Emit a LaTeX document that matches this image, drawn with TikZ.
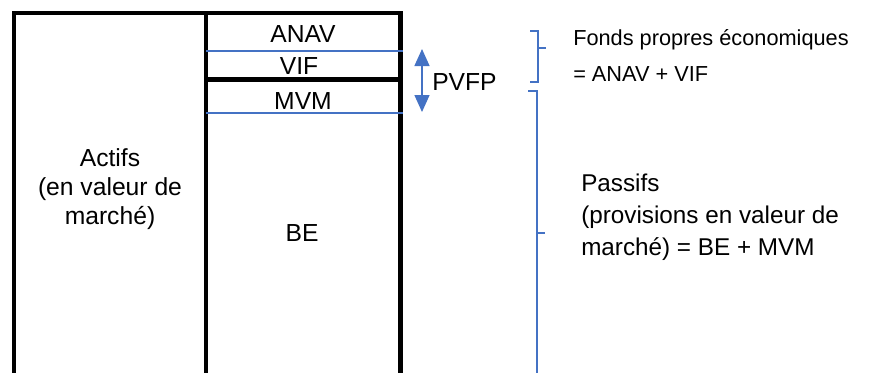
\documentclass[tikz,border=0pt]{standalone}
\usepackage{fontspec}
\setmainfont{Liberation Sans}
\usepackage{tikz}
\usetikzlibrary{arrows.meta}
\definecolor{offblue}{RGB}{68,114,196}

\begin{document}
\begin{tikzpicture}[x=0.75pt,y=0.75pt,yscale=-1,xscale=1,
  frame/.style={line width=3.4pt,black},
  sepline/.style={line width=1.1pt,offblue},
  bracepath/.style={line width=1.1pt,offblue,line join=miter},
  pvarrow/.style={line width=1.1pt,offblue,{Triangle[width=11.25pt,length=12.75pt]}-{Triangle[width=11.25pt,length=12.75pt]}},
  lbl/.style={inner sep=0pt,font=\fontsize{18.5}{22}\selectfont}]
\clip (0,0) rectangle (872,372);

%Frame of the balance sheet
\draw[frame] (14,390) -- (14,13) -- (400.5,13) -- (400.5,390) ;
\draw[frame] (206,13) -- (206,390) ;
\draw[frame] (206,79.5) -- (400.5,79.5) ;

%Thin blue separators
\draw[sepline] (206,51) -- (403,51) ;
\draw[sepline] (206,113) -- (403,113) ;

%Braces
\draw[bracepath] (530,31) -- (538,31) -- (538,82) -- (530,82) (538,48) -- (546,48) ;
\draw[bracepath] (528,91) -- (537,91) -- (537,390) (537,233) -- (545,233) ;

%PVFP arrow
\coordinate (pvtop) at (422,49);
\coordinate (pvbot) at (422,112);
\draw[pvarrow] (pvtop) -- (pvbot) ;

% Text Node
\node[lbl,anchor=base] (anav) at (303,42) {ANAV};
% Text Node
\node[lbl,anchor=base] (vif) at (299,74) {VIF};
% Text Node
\node[lbl,anchor=base] (mvm) at (303,109) {MVM};
% Text Node
\node[lbl,anchor=base] (be) at (302,241) {BE};
% Text Node
\node[lbl,anchor=base west] (pvfp) at (432,90) {PVFP};
% Text Node
\node[lbl,align=center,font=\fontsize{18.5}{21.75}\selectfont] (actifs) at (110,189.5) {Actifs\\(en valeur de\\marché)};
% Text Node
\node[lbl,align=left,anchor=west,font=\fontsize{16.3}{27}\selectfont] (fonds) at (573,55) {Fonds propres économiques\\= ANAV + VIF};
% Text Node
\node[lbl,align=left,anchor=west,font=\fontsize{18.2}{24}\selectfont] (passifs) at (581,217.5) {Passifs\\(provisions en valeur de\\marché) = BE + MVM};

\end{tikzpicture}
\end{document}
